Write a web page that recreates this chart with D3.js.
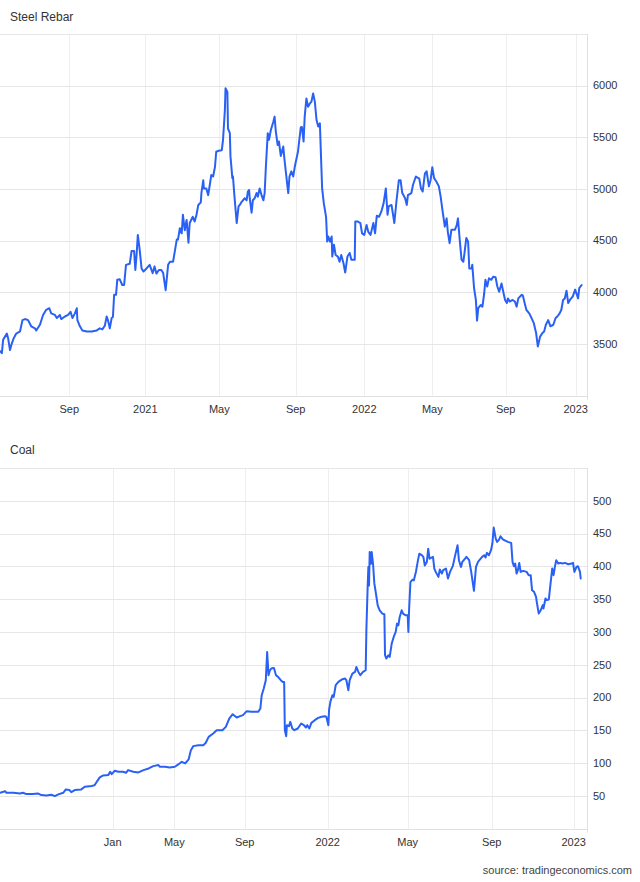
<!DOCTYPE html>
<html><head><meta charset="utf-8">
<script src="https://cdn.jsdelivr.net/npm/d3@7"></script>
<style>
body{margin:0;background:#fff;}
svg{display:block;font-family:"Liberation Sans",Arial,Helvetica,sans-serif;}
</style></head><body>
<svg id="c" width="640" height="882"></svg>
<script>
// ---------- DATA ----------
const rebarSeries = [["2020-05-13",3430],["2020-05-16",3410],["2020-05-18",3540],["2020-05-21",3570],["2020-05-24",3600],["2020-05-26",3555],["2020-05-29",3440],["2020-06-01",3505],["2020-06-04",3555],["2020-06-08",3600],["2020-06-14",3620],["2020-06-18",3730],["2020-06-22",3740],["2020-06-27",3730],["2020-07-02",3670],["2020-07-08",3650],["2020-07-10",3630],["2020-07-16",3685],["2020-07-21",3780],["2020-07-26",3830],["2020-07-31",3845],["2020-08-03",3795],["2020-08-09",3780],["2020-08-12",3750],["2020-08-17",3780],["2020-08-19",3740],["2020-08-25",3765],["2020-08-30",3780],["2020-09-03",3810],["2020-09-06",3750],["2020-09-10",3795],["2020-09-13",3845],["2020-09-14",3730],["2020-09-18",3670],["2020-09-22",3630],["2020-09-29",3620],["2020-10-07",3620],["2020-10-15",3630],["2020-10-20",3650],["2020-10-24",3640],["2020-10-28",3675],["2020-10-31",3765],["2020-11-02",3730],["2020-11-05",3650],["2020-11-08",3750],["2020-11-10",3760],["2020-11-12",3975],["2020-11-15",3975],["2020-11-17",4120],["2020-11-21",4125],["2020-11-25",4070],["2020-11-28",4070],["2020-12-01",4265],["2020-12-07",4275],["2020-12-10",4400],["2020-12-14",4400],["2020-12-16",4215],["2020-12-18",4360],["2020-12-20",4555],["2020-12-23",4410],["2020-12-26",4230],["2020-12-29",4200],["2021-01-03",4230],["2021-01-08",4265],["2021-01-13",4185],["2021-01-16",4250],["2021-01-19",4180],["2021-01-23",4215],["2021-01-27",4215],["2021-01-30",4185],["2021-02-03",4020],["2021-02-07",4265],["2021-02-10",4295],["2021-02-15",4295],["2021-02-18",4400],["2021-02-21",4510],["2021-02-23",4510],["2021-02-26",4620],["2021-03-01",4570],["2021-03-03",4750],["2021-03-06",4600],["2021-03-09",4700],["2021-03-12",4480],["2021-03-14",4670],["2021-03-19",4730],["2021-03-22",4685],["2021-03-25",4750],["2021-03-28",4845],["2021-04-01",4870],["2021-04-02",4960],["2021-04-05",5085],["2021-04-06",5005],["2021-04-10",5005],["2021-04-13",4940],["2021-04-16",5055],["2021-04-18",5135],["2021-04-21",5120],["2021-04-24",5215],["2021-04-26",5360],["2021-04-30",5370],["2021-05-05",5375],["2021-05-07",5475],["2021-05-10",5765],["2021-05-11",5975],["2021-05-14",5940],["2021-05-15",5585],["2021-05-18",5540],["2021-05-19",5315],["2021-05-22",5105],["2021-05-23",5120],["2021-05-25",4960],["2021-05-29",4670],["2021-06-01",4830],["2021-06-03",4845],["2021-06-06",4875],["2021-06-11",4910],["2021-06-14",4890],["2021-06-16",4975],["2021-06-18",4990],["2021-06-19",4910],["2021-06-22",4770],["2021-06-24",4890],["2021-06-27",4910],["2021-06-30",4960],["2021-07-02",4925],["2021-07-05",5005],["2021-07-08",4940],["2021-07-11",4890],["2021-07-13",4960],["2021-07-15",5215],["2021-07-18",5540],["2021-07-20",5475],["2021-07-23",5570],["2021-07-27",5650],["2021-07-29",5700],["2021-07-31",5555],["2021-08-03",5425],["2021-08-05",5460],["2021-08-08",5320],["2021-08-12",5410],["2021-08-14",5280],["2021-08-17",5120],["2021-08-20",4960],["2021-08-22",5120],["2021-08-25",5170],["2021-08-28",5120],["2021-08-31",5230],["2021-09-05",5360],["2021-09-10",5595],["2021-09-12",5600],["2021-09-15",5460],["2021-09-17",5700],["2021-09-20",5875],["2021-09-23",5795],["2021-09-26",5825],["2021-09-29",5845],["2021-10-02",5925],["2021-10-05",5845],["2021-10-08",5670],["2021-10-11",5605],["2021-10-14",5635],["2021-10-16",5315],["2021-10-18",5005],["2021-10-21",4860],["2021-10-25",4730],["2021-10-27",4490],["2021-10-29",4540],["2021-11-01",4490],["2021-11-04",4540],["2021-11-05",4345],["2021-11-08",4460],["2021-11-11",4360],["2021-11-15",4345],["2021-11-18",4295],["2021-11-21",4360],["2021-11-25",4280],["2021-11-28",4190],["2021-12-02",4345],["2021-12-06",4380],["2021-12-09",4315],["2021-12-15",4315],["2021-12-16",4685],["2021-12-20",4685],["2021-12-25",4670],["2021-12-28",4570],["2022-01-01",4555],["2022-01-05",4650],["2022-01-08",4585],["2022-01-12",4555],["2022-01-17",4670],["2022-01-20",4570],["2022-01-23",4740],["2022-01-27",4730],["2022-01-31",4780],["2022-02-04",4860],["2022-02-08",5005],["2022-02-11",4750],["2022-02-13",4830],["2022-02-18",4845],["2022-02-23",4670],["2022-02-27",4895],["2022-03-03",5085],["2022-03-06",5085],["2022-03-09",4960],["2022-03-14",4910],["2022-03-17",4845],["2022-03-19",4940],["2022-03-25",4960],["2022-03-28",5040],["2022-04-02",5120],["2022-04-08",5100],["2022-04-11",5005],["2022-04-14",4975],["2022-04-18",5150],["2022-04-21",5170],["2022-04-25",5025],["2022-04-28",5085],["2022-05-01",5210],["2022-05-04",5105],["2022-05-08",5070],["2022-05-12",5025],["2022-05-15",4925],["2022-05-18",4795],["2022-05-22",4635],["2022-05-25",4715],["2022-05-27",4585],["2022-05-30",4475],["2022-06-02",4605],["2022-06-08",4605],["2022-06-11",4650],["2022-06-13",4715],["2022-06-16",4505],["2022-06-19",4315],["2022-06-22",4295],["2022-06-24",4380],["2022-06-27",4525],["2022-06-30",4490],["2022-07-02",4230],["2022-07-06",4230],["2022-07-07",4265],["2022-07-10",4040],["2022-07-13",3925],["2022-07-15",3725],["2022-07-17",3845],["2022-07-21",3875],["2022-07-24",3860],["2022-07-27",3990],["2022-07-29",4120],["2022-08-01",4055],["2022-08-04",4135],["2022-08-08",4120],["2022-08-11",4150],["2022-08-15",4145],["2022-08-18",4055],["2022-08-21",4005],["2022-08-25",4085],["2022-08-29",3975],["2022-08-31",3925],["2022-09-03",3895],["2022-09-05",3940],["2022-09-08",3910],["2022-09-13",3925],["2022-09-17",3910],["2022-09-20",3860],["2022-09-23",3940],["2022-09-29",3975],["2022-10-01",3965],["2022-10-04",3895],["2022-10-07",3830],["2022-10-12",3795],["2022-10-16",3750],["2022-10-20",3700],["2022-10-24",3605],["2022-10-27",3475],["2022-10-31",3570],["2022-11-04",3605],["2022-11-07",3620],["2022-11-10",3685],["2022-11-14",3730],["2022-11-18",3670],["2022-11-23",3685],["2022-11-27",3750],["2022-11-30",3765],["2022-12-04",3795],["2022-12-07",3830],["2022-12-10",3925],["2022-12-13",3940],["2022-12-16",4015],["2022-12-19",3895],["2022-12-22",3925],["2022-12-27",3960],["2022-12-31",4025],["2023-01-03",3975],["2023-01-05",3940],["2023-01-07",4040],["2023-01-11",4070]];
const rebarTickDates = ["2020-09-01","2021-01-01","2021-05-01","2021-09-01","2022-01-01","2022-05-01","2022-09-01","2023-01-01"];
const rebarTickLabels = ["Sep","2021","May","Sep","2022","May","Sep","2023"];
const rebarYTicks = [3500,4000,4500,5000,5500,6000];
const rebarYDomain = [3000,6500];
const rebarDateRange = ["2020-05-13","2023-01-20"];

const coalSeries = [["2020-05-20",54.8],["2020-05-27",56.3],["2020-05-30",57.4],["2020-06-02",54.8],["2020-06-16",54.8],["2020-06-29",53.8],["2020-07-05",54.8],["2020-07-12",52.8],["2020-07-25",52.8],["2020-08-04",53.8],["2020-08-11",51.3],["2020-08-21",50.8],["2020-08-31",51.8],["2020-09-07",49.7],["2020-09-14",52.3],["2020-09-24",54.8],["2020-09-29",59.9],["2020-10-06",58.9],["2020-10-10",55.8],["2020-10-17",58.9],["2020-10-30",59.9],["2020-11-06",64],["2020-11-20",65],["2020-11-26",66.5],["2020-12-01",72.6],["2020-12-06",78.2],["2020-12-13",81.2],["2020-12-23",81.7],["2020-12-27",86.8],["2020-12-30",83.2],["2021-01-05",88.3],["2021-01-12",86.8],["2021-01-21",86.8],["2021-01-27",85.3],["2021-01-31",89.3],["2021-02-10",86.8],["2021-02-20",85.8],["2021-03-02",89.3],["2021-03-12",91.9],["2021-03-21",95.4],["2021-03-31",97],["2021-04-03",94.4],["2021-04-13",94.4],["2021-04-22",93.4],["2021-05-02",94.4],["2021-05-08",98],["2021-05-14",102],["2021-05-20",99.5],["2021-05-26",105.6],["2021-05-30",119.8],["2021-06-03",125.9],["2021-06-12",127.4],["2021-06-21",127.4],["2021-06-25",131],["2021-06-30",140.1],["2021-07-08",145.2],["2021-07-14",150.2],["2021-07-24",150.2],["2021-07-30",155.3],["2021-08-05",168],["2021-08-11",174.6],["2021-08-18",169.5],["2021-08-24",171.6],["2021-08-29",173.1],["2021-09-04",179.2],["2021-09-11",178.2],["2021-09-21",178.2],["2021-09-24",183.2],["2021-09-26",203.6],["2021-09-29",213.7],["2021-10-02",226.4],["2021-10-04",269.5],["2021-10-06",234],["2021-10-08",241.6],["2021-10-10",244.2],["2021-10-14",245.2],["2021-10-17",234],["2021-10-20",231.5],["2021-10-24",226.4],["2021-10-27",223.8],["2021-10-29",223.8],["2021-10-30",150.2],["2021-11-01",141.1],["2021-11-02",157.9],["2021-11-05",156.3],["2021-11-07",162.9],["2021-11-10",152.8],["2021-11-13",150.2],["2021-11-18",152.8],["2021-11-23",160.4],["2021-11-27",157.9],["2021-11-30",154.3],["2021-12-02",157.9],["2021-12-05",152.8],["2021-12-08",161.4],["2021-12-13",165.5],["2021-12-18",169],["2021-12-23",170.6],["2021-12-28",171.6],["2021-12-30",170.6],["2022-01-02",157.9],["2022-01-03",180.7],["2022-01-05",193.4],["2022-01-08",203.6],["2022-01-10",201],["2022-01-13",218.8],["2022-01-17",223.8],["2022-01-22",227.4],["2022-01-27",228.9],["2022-01-29",226.4],["2022-02-01",211.2],["2022-02-03",226.4],["2022-02-07",236.5],["2022-02-11",239.1],["2022-02-13",246.7],["2022-02-16",239.1],["2022-02-19",234],["2022-02-23",239.1],["2022-02-27",241.6],["2022-02-28",302.5],["2022-03-02",371],["2022-03-03",399],["2022-03-04",371],["2022-03-05",421.8],["2022-03-07",404],["2022-03-08",421.8],["2022-03-10",404],["2022-03-12",373.6],["2022-03-14",360.9],["2022-03-17",340.6],["2022-03-20",333],["2022-03-24",327.9],["2022-03-27",326.9],["2022-03-28",264.5],["2022-03-30",259.4],["2022-04-02",264.5],["2022-04-04",261.9],["2022-04-07",282.2],["2022-04-10",292.4],["2022-04-13",300],["2022-04-15",312.7],["2022-04-17",310.1],["2022-04-19",322.8],["2022-04-22",333],["2022-04-24",327.9],["2022-04-28",325.4],["2022-05-01",325.4],["2022-05-02",300],["2022-05-03",333],["2022-05-05",376.1],["2022-05-08",379.7],["2022-05-10",378.7],["2022-05-13",391.4],["2022-05-16",409.1],["2022-05-18",419.3],["2022-05-22",416.7],["2022-05-24",414.2],["2022-05-26",401.5],["2022-05-29",406.6],["2022-05-31",426.9],["2022-06-02",411.7],["2022-06-07",414.5],["2022-06-09",396.7],["2022-06-11",391.6],["2022-06-15",384],["2022-06-17",395.2],["2022-06-20",389.1],["2022-06-22",394.2],["2022-06-26",396.7],["2022-06-27",391.6],["2022-06-29",381.5],["2022-07-02",391.6],["2022-07-06",400.3],["2022-07-09",414.5],["2022-07-13",432.2],["2022-07-15",409.4],["2022-07-18",399.2],["2022-07-20",406.9],["2022-07-24",411.9],["2022-07-26",414.5],["2022-07-30",409.4],["2022-08-02",391.6],["2022-08-06",362.7],["2022-08-09",399.2],["2022-08-12",406.9],["2022-08-14",409.4],["2022-08-18",414.5],["2022-08-21",417],["2022-08-23",413.5],["2022-08-25",420.6],["2022-08-28",417],["2022-08-31",424.6],["2022-09-02",434.8],["2022-09-04",459.1],["2022-09-07",442.4],["2022-09-09",437.3],["2022-09-12",440.9],["2022-09-14",445.9],["2022-09-18",440.9],["2022-09-22",438.8],["2022-09-25",437.3],["2022-09-30",435.8],["2022-10-02",406.9],["2022-10-04",400.3],["2022-10-06",404.3],["2022-10-08",389.1],["2022-10-10",394.2],["2022-10-12",405.3],["2022-10-14",391.6],["2022-10-18",393.1],["2022-10-23",391.6],["2022-10-26",386.6],["2022-10-29",386.6],["2022-10-31",363.7],["2022-11-03",361.2],["2022-11-06",353.6],["2022-11-07",345.9],["2022-11-10",328.2],["2022-11-13",333.2],["2022-11-16",340.9],["2022-11-17",335.8],["2022-11-20",351],["2022-11-22",348.5],["2022-11-25",349.5],["2022-11-27",368.8],["2022-11-30",396.7],["2022-12-02",386.6],["2022-12-04",399.2],["2022-12-06",409.4],["2022-12-09",404.3],["2022-12-12",405.3],["2022-12-15",404.3],["2022-12-19",405.3],["2022-12-24",403.3],["2022-12-29",404.3],["2022-12-31",405.3],["2023-01-02",391.6],["2023-01-05",399.2],["2023-01-07",400.3],["2023-01-10",391.6],["2023-01-11",381.5]];
const coalTickDates = ["2021-01-01","2021-05-01","2021-09-01","2022-01-01","2022-05-01","2022-09-01","2023-01-01"];
const coalTickLabels = ["Jan","May","Sep","2022","May","Sep","2023"];
const coalYTicks = [50,100,150,200,250,300,350,400,450,500];
const coalYDomain = [0,550];
const coalDateRange = ["2020-05-20","2023-01-20"];

// ---------- LAYOUT ----------
const LINE_COLOR = "#2a61f5";
const GRID_COLOR = "#e6e6e6";
const VGRID_COLOR = "#eeeeee";
const TEXT_COLOR = "#333333";

const parse = d3.timeParse("%Y-%m-%d");
const svg = d3.select("#c");

function drawChart(cfg) {
  const g = svg.append("g");
  const domain = [cfg.range[0], ...cfg.tickDates, cfg.range[1]].map(parse);
  const x = d3.scaleTime().domain(domain).range(cfg.xStops);
  const y = d3.scaleLinear().domain(cfg.yDomain).range([cfg.bottom, cfg.top]);
  const right = cfg.xStops[cfg.xStops.length - 1];

  // title
  g.append("text").attr("x", 10).attr("y", cfg.titleY)
    .attr("font-size", 12).attr("fill", TEXT_COLOR).text(cfg.title);

  // vertical grid
  g.selectAll(".vg").data(cfg.tickDates).enter().append("line")
    .attr("x1", d => Math.round(x(parse(d))) + 0.5).attr("x2", d => Math.round(x(parse(d))) + 0.5)
    .attr("y1", cfg.top).attr("y2", cfg.bottom)
    .attr("stroke", VGRID_COLOR).attr("stroke-width", 1);

  // horizontal grid
  g.selectAll(".hg").data(cfg.yTicks).enter().append("line")
    .attr("x1", 0).attr("x2", right)
    .attr("y1", d => Math.round(y(d)) + 0.5).attr("y2", d => Math.round(y(d)) + 0.5)
    .attr("stroke", GRID_COLOR).attr("stroke-width", 1);

  // frame lines (top, bottom, right)
  g.append("line").attr("x1", 0).attr("x2", right)
    .attr("y1", Math.round(cfg.top) + 0.5).attr("y2", Math.round(cfg.top) + 0.5)
    .attr("stroke", GRID_COLOR);
  g.append("line").attr("x1", 0).attr("x2", right)
    .attr("y1", Math.round(cfg.bottom) + 0.5).attr("y2", Math.round(cfg.bottom) + 0.5)
    .attr("stroke", "#e0e0e0");
  g.append("line").attr("x1", Math.round(right) + 0.5).attr("x2", Math.round(right) + 0.5)
    .attr("y1", cfg.top).attr("y2", cfg.bottom + 4)
    .attr("stroke", "#e0e0e0");

  // y tick labels (right)
  g.selectAll(".yl").data(cfg.yTicks).enter().append("text")
    .attr("x", right + 6).attr("y", d => y(d)).attr("dy", "0.35em")
    .attr("font-size", 11).attr("fill", TEXT_COLOR).text(d => d);

  // x tick labels
  g.selectAll(".xl").data(cfg.tickDates).enter().append("text")
    .attr("x", d => x(parse(d))).attr("y", cfg.bottom + 17)
    .attr("text-anchor", "middle")
    .attr("font-size", 11).attr("fill", TEXT_COLOR)
    .text((d, i) => cfg.tickLabels[i]);

  // line
  const line = d3.line().x(d => x(parse(d[0]))).y(d => y(d[1]));
  g.append("path").datum(cfg.series)
    .attr("d", line).attr("fill", "none")
    .attr("stroke", LINE_COLOR).attr("stroke-width", 2)
    .attr("stroke-linejoin", "round").attr("stroke-linecap", "round");
}

drawChart({
  title: "Steel Rebar", titleY: 21, top: 34, bottom: 395.5,
  xStops: [0, 69.3, 145.3, 219.3, 295.7, 364.3, 432.3, 505.7, 575.7, 587],
  range: rebarDateRange, tickDates: rebarTickDates, tickLabels: rebarTickLabels,
  yTicks: rebarYTicks, yDomain: rebarYDomain, series: rebarSeries
});

drawChart({
  title: "Coal", titleY: 454, top: 468, bottom: 828.7,
  xStops: [0, 112.7, 174.3, 244.7, 327.7, 407.7, 491.7, 573.7, 587],
  range: coalDateRange, tickDates: coalTickDates, tickLabels: coalTickLabels,
  yTicks: coalYTicks, yDomain: coalYDomain, series: coalSeries
});

svg.append("text").attr("x", 632).attr("y", 874).attr("text-anchor", "end")
  .attr("font-size", 11).attr("fill", "#444").text("source: tradingeconomics.com");
</script>
</body></html>
